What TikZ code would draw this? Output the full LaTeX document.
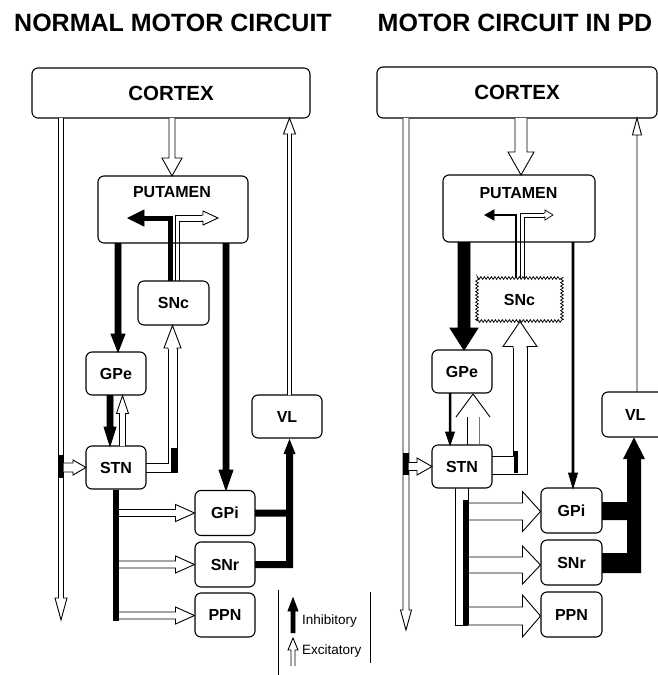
\documentclass[tikz,border=0pt]{standalone}
\usepackage{fontspec}
\setmainfont{Liberation Sans}
\usetikzlibrary{calc,decorations.pathmorphing}

\tikzset{
  box/.style={draw, rounded corners=6pt, line width=1.1pt, inner sep=0pt, font=\bfseries\fontsize{16}{16}\selectfont},
  big/.style={font=\bfseries\fontsize{20.5}{20}\selectfont},
  lbl/.style={inner sep=0pt, font=\bfseries\fontsize{16}{16}\selectfont},
  title/.style={inner sep=0pt, font=\bfseries\fontsize{25}{30}\selectfont},
  legtext/.style={inner sep=0pt, font=\fontsize{13.5}{14}\selectfont},
  hol/.style={draw=black, line width=0.9pt, fill=white},
  inh/.style={fill=black},
  exline/.style={draw=black, line width=0.9pt},
}

\makeatletter
\newdimen\hollowdx \newdimen\hollowdy
\newcommand\hollow[6][]{%
  \path #2 coordinate (hollowA);%
  \path #3 coordinate (hollowB);%
  \pgfmathanglebetweenpoints{\pgfpointanchor{hollowA}{center}}{\pgfpointanchor{hollowB}{center}}%
  \edef\hollow@ang{\pgfmathresult}%
  \pgfpointdiff{\pgfpointanchor{hollowA}{center}}{\pgfpointanchor{hollowB}{center}}%
  \hollowdx=\pgf@x \hollowdy=\pgf@y
  \pgfmathparse{veclen(\hollowdx,\hollowdy)}%
  \edef\hollow@len{\pgfmathresult}%
  \pgfmathsetmacro\hollow@base{\hollow@len-#6}%
  \begin{scope}[shift={(hollowA)},rotate=\hollow@ang,x=1pt,y=1pt]
    \draw[hol,#1] (0,#4) -- (\hollow@base,#4) -- (\hollow@base,#5) -- (\hollow@len,0) -- (\hollow@base,-#5) -- (\hollow@base,-#4) -- (0,-#4);
  \end{scope}}
\makeatother

\begin{document}
\begin{tikzpicture}[x=1pt,y=-1pt]
\useasboundingbox (0,0) rectangle (658,675);

% titles
\node[title] (tL) at (173,23) {NORMAL MOTOR CIRCUIT};
\node[title] (tR) at (515,23) {MOTOR CIRCUIT IN PD};

% ================= LEFT =================
\node[box, big, minimum width=278, minimum height=50] (cortexL) at (171,93) {CORTEX};
\node[box, minimum width=150, minimum height=67] (putL) at (173,209.5) {};
\node[lbl] (putLt) at (172,192) {PUTAMEN};
\node[box, minimum width=71, minimum height=44] (sncL) at (173.5,303) {SNc};
\node[box, minimum width=60, minimum height=43] (gpeL) at (116,373.5) {GPe};
\node[box, minimum width=60, minimum height=43] (stnL) at (116,467.5) {STN};
\node[box, minimum width=70, minimum height=43] (vlL) at (287,416.5) {VL};
\node[box, minimum width=60, minimum height=45] (gpiL) at (225,513) {GPi};
\node[box, minimum width=60, minimum height=45] (snrL) at (225,564.5) {SNr};
\node[box, minimum width=60, minimum height=44] (ppnL) at (225,615) {PPN};

% cortex long descending
\hollow{(61,118)}{(61,620)}{2.5}{6}{22}
% cortex -> putamen
\hollow{(172,118)}{(172,176)}{3}{10}{18}
% VL -> cortex
\hollow{(289.5,395)}{(289.5,118)}{2}{6}{16}
% putamen internal inhibitory
\draw[line width=5pt] (170.5,281) -- (170.5,218) -- (144,218);
\hollow[inh]{(144,218)}{(128,218)}{0}{8}{16}
% putamen internal excitatory
\draw[exline] (175,281) -- (175,215) -- (203,215);
\draw[exline] (179,281) -- (179,221) -- (203,221);
\hollow{(202,218)}{(218,218)}{3}{7}{15}
% putamen -> GPe, GPi
\hollow[inh]{(118,243)}{(118,352)}{3}{7}{18}
\hollow[inh]{(226,243)}{(226,490)}{3}{7}{20}
% GPe <-> STN
\hollow[inh]{(110,395)}{(110,446)}{3}{6}{19}
\hollow{(122.5,446)}{(122.5,395.5)}{3}{6}{18}
% cortex -> STN
\fill (58.5,455) rectangle (63.5,478);
\hollow{(63.5,467.5)}{(86,467.5)}{4.5}{7.5}{13}
% STN -> SNc
\draw[exline] (146,463) -- (168,463) -- (168,348);
\draw[exline] (146,472) -- (177,472) -- (177,348);
\hollow{(172.5,349)}{(172.5,325.5)}{4.5}{8.5}{22.5}
\fill (171,448) rectangle (177,472);
% STN -> GPi, SNr, PPN
\hollow{(119,513)}{(194.5,513)}{3.5}{8.5}{19}
\hollow{(119,564.5)}{(194.5,564.5)}{3.5}{8.5}{19}
\hollow{(119,615.5)}{(194.5,615.5)}{3.5}{8.5}{19}
\draw[line width=6pt] (stnL.south) -- (116,621);
% GPi, SNr -> VL
\fill (255,509.5) -- (286,509.5) -- (286,454) -- (283.5,454) -- (289.5,439) -- (295.5,454) -- (293,454) -- (293,568) -- (255,568) -- (255,561) -- (286,561) -- (286,516.5) -- (255,516.5) -- cycle;

% legend
\draw[exline] (278,590) -- (278,675);
\draw[exline] (370,592) -- (370,663);
\hollow[inh]{(293,633)}{(293,598)}{2}{5}{13}
\hollow{(293,666)}{(293,638)}{2}{5}{12}
\node[legtext, anchor=west] (inhT) at (302,621) {Inhibitory};
\node[legtext, anchor=west] (excT) at (302,651) {Excitatory};

% ================= RIGHT =================
\node[box, big, minimum width=280, minimum height=51] (cortexR) at (517,92.5) {CORTEX};
\node[box, minimum width=152, minimum height=67] (putR) at (519,208.5) {};
\node[lbl] (putRt) at (518.5,193) {PUTAMEN};
\node[draw, line width=0.8pt, decorate, decoration={zigzag, amplitude=1.3pt, segment length=3.5pt}, minimum width=85, minimum height=43, inner sep=0pt, font=\bfseries\fontsize{16}{16}\selectfont] (sncR) at (519.5,299.5) {SNc};
\node[box, minimum width=60, minimum height=43] (gpeR) at (462,371.5) {GPe};
\node[box, minimum width=60, minimum height=43] (stnR) at (462,466.5) {STN};
\node[box, minimum width=68, minimum height=45, text width=66, align=left] (vlR) at (636,414.5) {\hspace*{22pt}VL};
\node[box, minimum width=61, minimum height=45] (gpiR) at (571.5,510.5) {GPi};
\node[box, minimum width=61, minimum height=45] (snrR) at (571.5,562.5) {SNr};
\node[box, minimum width=61, minimum height=45] (ppnR) at (571.5,614.5) {PPN};

% cortex long descending
\hollow{(406,118)}{(406,630)}{3}{5.5}{20}
% cortex -> putamen
\hollow{(521,118)}{(521,175)}{6}{13}{23}
% VL -> cortex
\hollow{(637,392)}{(637,118)}{0}{4.5}{17}
% putamen internal
\draw[line width=1.8pt] (516,278) -- (516,215) -- (493,215);
\hollow[inh]{(494,215)}{(485,215)}{0}{5}{9}
\draw[exline, line width=0.7pt] (520.5,278) -- (520.5,213) -- (545,213);
\draw[exline, line width=0.7pt] (524,278) -- (524,217) -- (545,217);
\hollow[line width=0.7pt]{(544,215)}{(553,215)}{2}{5}{8}
% putamen -> GPe (thick), -> GPi (thin)
\hollow[inh]{(464,242)}{(464,350)}{6}{14}{22}
\hollow[inh]{(573,242)}{(573,488)}{0.9}{4.5}{15}
% GPe -> STN
\hollow[inh]{(450,393)}{(450,445)}{0.8}{4.5}{13}
% STN -> GPe (open wide head)
\draw[exline] (467,445) -- (467,417);
\draw[exline, draw=black!55] (479,445) -- (479,417);
\draw[exline] (456,417) -- (473,394) -- (490,417);
% cortex -> STN
\fill (403,453) rectangle (408.5,475);
\hollow{(408.5,466.5)}{(432,466.5)}{4}{8.5}{15}
% STN -> SNc
\draw[exline] (492,456) -- (513,456) -- (513,347);
\draw[exline] (492,474) -- (527,474) -- (527,347);
\hollow{(520,348)}{(520,321.5)}{7}{17}{25}
\fill (513.5,451) rectangle (518,473);
% STN -> GPi, SNr, PPN
\hollow{(468,511.5)}{(540.5,511.5)}{8.5}{20}{18}
\hollow{(468,565)}{(540.5,565)}{8}{19}{18}
\hollow{(468,616)}{(540.5,616)}{9}{21}{18}
\draw[exline] (455,488) -- (455,625) -- (468,625);
\draw[exline] (468,488) -- (468,503);
\draw[exline] (468,520) -- (468,557);
\draw[exline] (468,573) -- (468,607);
\fill (463,500) rectangle (468.5,625);
% GPi, SNr -> VL (very thick)
\fill (602,502) -- (627,502) -- (627,459) -- (623,459) -- (634,437.5) -- (645,459) -- (641,459) -- (641,573) -- (602,573) -- (602,553) -- (627,553) -- (627,520) -- (602,520) -- cycle;
\end{tikzpicture}
\end{document}
